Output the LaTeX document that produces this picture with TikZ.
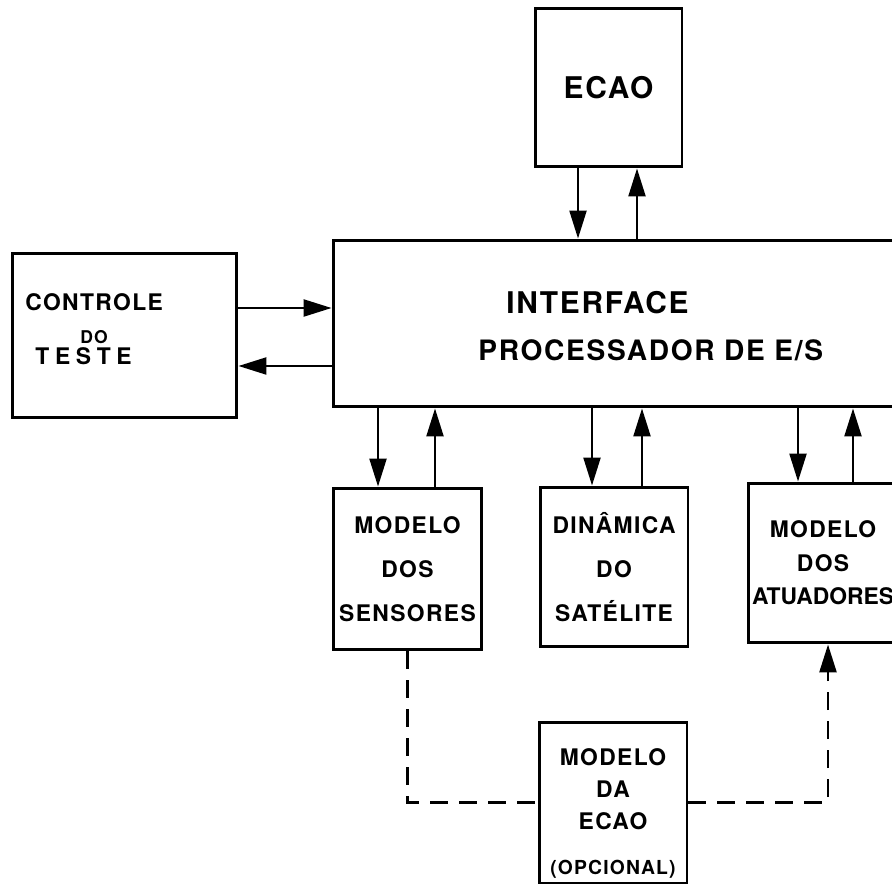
\documentclass[tikz,border=0pt]{standalone}
\usepackage{fontspec}
\setmainfont{TeX Gyre Heros}[LetterSpace=6]
\usetikzlibrary{positioning,arrows.meta}

\tikzset{
  blk/.style={draw, line width=1.7pt, align=center, inner sep=0pt},
  sig/.style={line width=1.3pt, -{Triangle[length=5.6mm,width=3.4mm]}},
  opt/.style={sig, line width=1.5pt, dash pattern=on 0.36cm off 0.22cm},
  lbl/.style={font=\bfseries\fontsize{13}{25}\selectfont},
  txt/.style={anchor=base west, inner sep=0pt}
}

\begin{document}
\begin{tikzpicture}[x=0.02cm, y=-0.02cm]
\clip (0,0) rectangle (892,885);
% blocos
\node[blk, minimum width=2.94cm, minimum height=3.18cm, font=\bfseries\fontsize{17}{20}\selectfont] (ecao) at (608.5,87.5) {ECAO};
\node[blk, minimum width=12.54cm, minimum height=3.34cm] (iface) at (646.5,323.5) {};
\node[blk, minimum width=4.5cm, minimum height=3.3cm] (ctrl) at (124.5,335.5) {};
\node[blk, lbl, minimum width=2.98cm, minimum height=3.24cm] (sens) at (407.5,569) {MODELO\\DOS\\SENSORES};
\node[blk, lbl, minimum width=2.96cm, minimum height=3.2cm] (dyn) at (614,567) {DINÂMICA\\DO\\SATÉLITE};
\node[blk, lbl, font=\bfseries\fontsize{13}{19}\selectfont, minimum width=3cm, minimum height=3.2cm] (atu) at (823,563)
    {MODELO\\DOS\\\addfontfeature{LetterSpace=0}ATUADORES};
\node[blk, minimum width=2.96cm, minimum height=3.22cm] (mecao) at (613,802.5) {};

% textos
\node[txt, font=\bfseries\fontsize{17}{20}\selectfont] (ifacetop) at (506,313) {INTERFACE};
\node[txt, font=\bfseries\fontsize{16}{20}\selectfont] (ifacebot) at (478,360) {PROCESSADOR DE E/S};
\node[txt, font=\bfseries\fontsize{13}{16}\selectfont] (ctrltop) at (25,310) {CONTROLE};
\node[txt, font=\bfseries\fontsize{10}{10}\selectfont] (ctrlmid) at (80,343) {DO};
\node[txt, font=\bfseries\fontsize{13}{16}\selectfont\addfontfeature{LetterSpace=25}] (ctrlbot) at (35,364) {TESTE};
\node[font=\bfseries\fontsize{13}{18}\selectfont, align=center, inner sep=0pt, below=0.56cm of mecao.north] (mecaotext)
    {MODELO\\DA\\ECAO\\[8pt]{\fontsize{11}{13}\selectfont (OPCIONAL)}};

% sinais
\draw[sig] ([xshift=-0.61cm]ecao.south) -- ([xshift=-0.61cm]ecao.south |- iface.north);
\draw[sig] ([xshift=0.57cm]ecao.south |- iface.north) -- ([xshift=0.57cm]ecao.south);
\draw[sig] ([yshift=0.55cm]ctrl.east) -- ([yshift=0.55cm]ctrl.east -| iface.west);
\draw[sig] ([yshift=-0.61cm]ctrl.east -| iface.west) -- ([yshift=-0.61cm]ctrl.east);
\draw[sig] ([xshift=-0.59cm]sens.north |- iface.south) -- ([xshift=-0.59cm]sens.north);
\draw[sig] ([xshift=0.55cm]sens.north) -- ([xshift=0.55cm]sens.north |- iface.south);
\draw[sig] ([xshift=-0.44cm]dyn.north |- iface.south) -- ([xshift=-0.44cm]dyn.north);
\draw[sig] ([xshift=0.56cm]dyn.north) -- ([xshift=0.56cm]dyn.north |- iface.south);
\draw[sig] ([xshift=-0.5cm]atu.north |- iface.south) -- ([xshift=-0.5cm]atu.north);
\draw[sig] ([xshift=0.6cm]atu.north) -- ([xshift=0.6cm]atu.north |- iface.south);

% modelo opcional
\draw[opt, -] (sens.south) |- (mecao.west);
\draw[opt] (mecao.east) -| ([xshift=0.1cm]atu.south);
\end{tikzpicture}
\end{document}
